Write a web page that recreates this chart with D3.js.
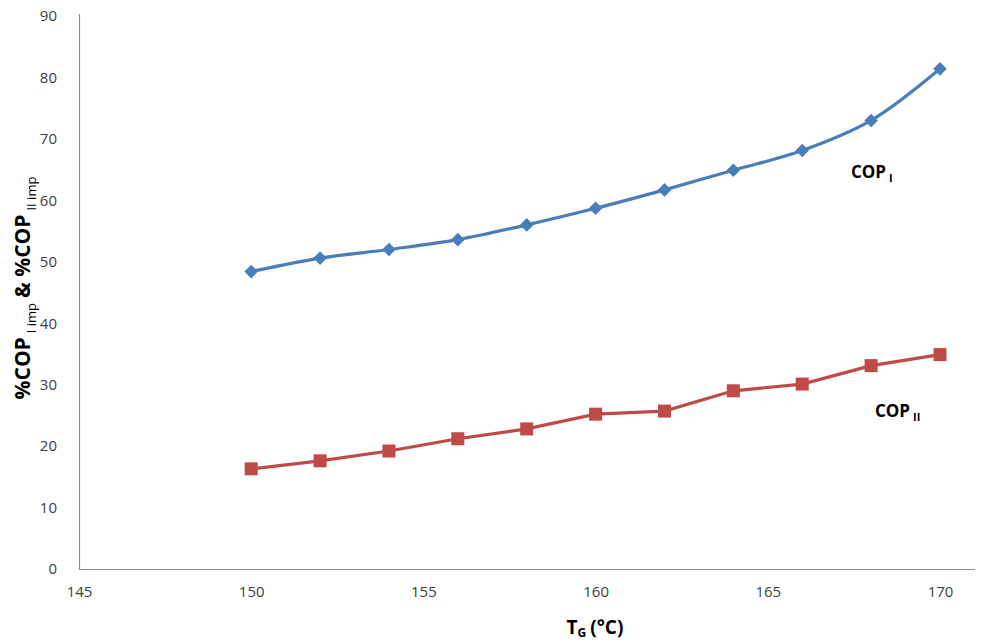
<!DOCTYPE html>
<html><head><meta charset="utf-8">
<script src="https://cdn.jsdelivr.net/npm/d3@7"></script>
<style>body{margin:0;background:#fff;} svg{display:block;}</style>
</head><body>
<svg id="chart" width="984" height="643"></svg>
<script>
const temps = [150,152,154,156,158,160,162,164,166,168,170];
const copI  = [48.4,50.6,52.0,53.6,56.0,58.7,61.7,64.9,68.1,73.0,81.4];
const copII = [16.3,17.6,19.2,21.2,22.8,25.2,25.7,29.0,30.1,33.1,34.9];
const xTicks = [145,150,155,160,165,170];
const yTicks = [0,10,20,30,40,50,60,70,80,90];

const svg = d3.select("#chart");
const x = d3.scaleLinear().domain([145,170]).range([79,940]);
const y = d3.scaleLinear().domain([0,90]).range([569,16]);
const tickFont = "'Open Sans', 'DejaVu Sans', sans-serif";
const boldFont = "'Open Sans', 'Liberation Sans', sans-serif";

// axes
const xAxis = svg.append("g").attr("transform","translate(0,569)")
  .call(d3.axisBottom(x).tickValues(xTicks).tickSize(0).tickPadding(17).tickFormat(d3.format("d")));
const yAxis = svg.append("g").attr("transform","translate(79,0)")
  .call(d3.axisLeft(y).tickValues(yTicks).tickSize(0).tickPadding(22).tickFormat(d3.format("d")));
[xAxis,yAxis].forEach(a=>{
  a.select(".domain").attr("stroke","#8c8c8c").attr("stroke-width",1.2);
  a.selectAll("text").attr("font-family",tickFont).attr("font-size",15).attr("fill","#404040");
});
xAxis.select(".domain").attr("d","M79,0.5H975");
yAxis.select(".domain").attr("d","M0.5,14V569");

const data = k => temps.map((t,i)=>({t, v:k[i]}));

// COP I line (smooth)
svg.append("path").datum(data(copI))
  .attr("fill","none").attr("stroke","#4a7ebb").attr("stroke-width",3.2)
  .attr("d", d3.line().x(d=>x(d.t)).y(d=>y(d.v)).curve(d3.curveCatmullRom.alpha(0.5)));
svg.append("g").selectAll("path").data(data(copI)).join("path")
  .attr("transform",d=>`translate(${x(d.t)},${y(d.v)}) rotate(45)`)
  .attr("d","M-4.8,-4.8H4.8V4.8H-4.8Z").attr("fill","#4a7ebb");

// COP II line
svg.append("path").datum(data(copII))
  .attr("fill","none").attr("stroke","#be4b48").attr("stroke-width",3.2)
  .attr("d", d3.line().x(d=>x(d.t)).y(d=>y(d.v)));
svg.append("g").selectAll("rect").data(data(copII)).join("rect")
  .attr("x",d=>x(d.t)-6.5).attr("y",d=>y(d.v)-6.5).attr("width",13).attr("height",13)
  .attr("fill","#be4b48");

// series labels
function subLabel(xp, yp, main, sub){
  const t = svg.append("text").attr("x",xp).attr("y",yp)
    .attr("font-family",boldFont).attr("font-weight","bold").attr("font-size",17).attr("fill","#000");
  t.append("tspan").text(main);
  t.append("tspan").attr("dx",3).attr("dy",4).attr("font-size",11).text(sub);
}
subLabel(851, 178, "COP", "I");
subLabel(875, 417, "COP", "II");

// x axis title
const xt = svg.append("text").attr("x",595).attr("y",634).attr("text-anchor","middle")
  .attr("font-family",boldFont).attr("font-weight","bold").attr("font-size",19).attr("fill","#000");
xt.append("tspan").text("T");
xt.append("tspan").attr("dy",3).attr("font-size",12).text("G");
xt.append("tspan").attr("dy",-3).attr("dx",4).text("(°C)");

// y axis title
const yt = svg.append("text").attr("transform","translate(30,288) rotate(-90)").attr("text-anchor","middle")
  .attr("font-family",boldFont).attr("font-weight","bold").attr("font-size",21).attr("fill","#000");
yt.append("tspan").text("%COP");
yt.append("tspan").attr("dx",4).attr("dy",6).attr("font-size",13).attr("font-weight","normal").text("I imp");
yt.append("tspan").attr("dx",5).attr("dy",-6).text("& %COP");
yt.append("tspan").attr("dx",4).attr("dy",6).attr("font-size",13).attr("font-weight","normal").text("II imp");
</script>
</body></html>
